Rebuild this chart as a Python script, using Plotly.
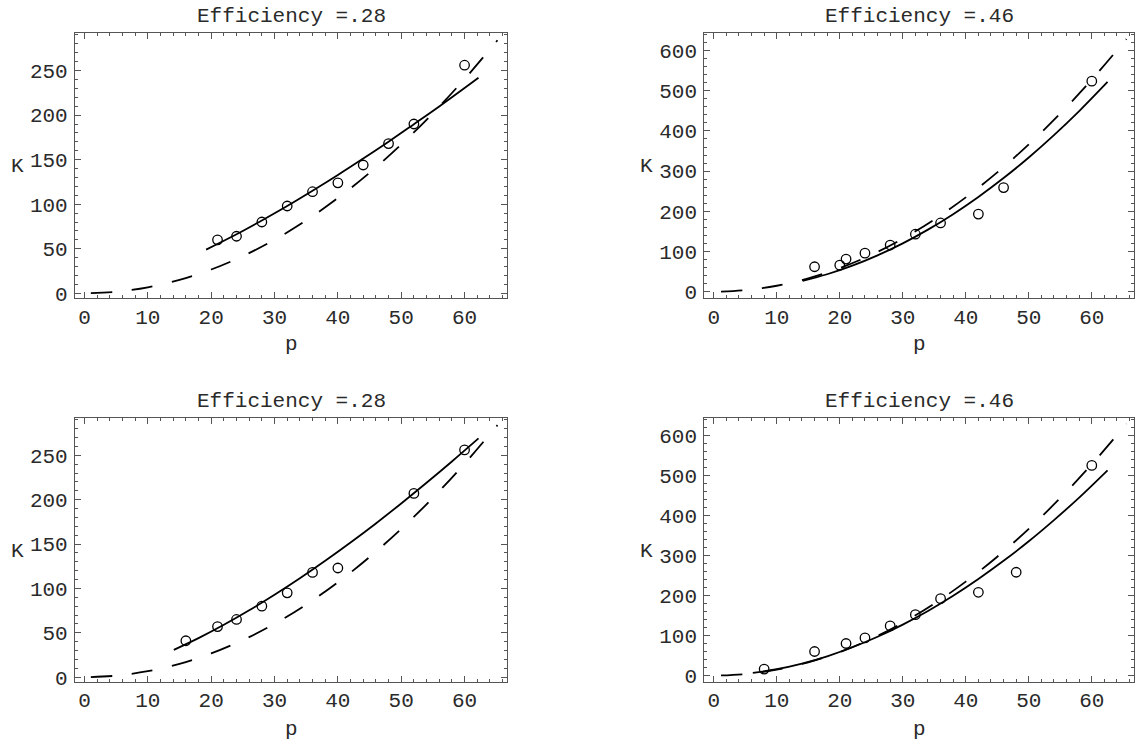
import plotly.graph_objects as go

# ---------------- data ----------------
titles = ["Efficiency =.28", "Efficiency =.46", "Efficiency =.28", "Efficiency =.46"]

# dashed model curves
p_dash_28 = [1, 5, 10, 15, 20, 25, 30, 35, 40, 45, 50, 55, 60, 65.2]
K_dash_28 = [0.1, 1.7, 6.7, 15.0, 26.7, 41.8, 60.1, 81.8, 106.9, 135.3, 167.0, 202.1, 240.5, 284.0]
p_dash_46 = [1.15, 5, 10, 15, 20, 25, 30, 35, 40, 45, 50, 55, 60, 65.5]
K_dash_46 = [0.2, 3.7, 14.7, 33.0, 58.6, 91.6, 131.9, 179.6, 234.6, 296.9, 366.5, 443.5, 527.8, 629.0]

# top-left panel
p_obs_tl = [21, 24, 28, 32, 36, 40, 44, 48, 52, 60]
K_obs_tl = [60, 64, 80, 98, 114, 124, 144, 168, 190, 256]
p_fit_tl = [19.2, 24, 28, 32, 36, 40, 44, 48, 52, 56, 60, 62.2]
K_fit_tl = [49, 66.3, 81.8, 98.0, 115.1, 132.8, 151.2, 170.1, 189.8, 209.7, 230.4, 242]

# top-right panel
p_obs_tr = [16, 20, 21, 24, 28, 32, 36, 42, 46, 60]
K_obs_tr = [62, 66, 81, 96, 116, 143, 171, 193, 259, 524]
p_fit_tr = [14.1, 18, 22, 26, 30, 34, 38, 42, 46, 50, 54, 58, 62.5]
K_fit_tr = [26.6, 43.3, 64.7, 90.3, 120.2, 154.4, 192.9, 235.7, 282.7, 334.0, 389.6, 449.4, 522]

# bottom-left panel
p_obs_bl = [16, 21, 24, 28, 32, 36, 40, 52, 60]
K_obs_bl = [41, 57, 65, 80, 95, 118, 123, 207, 256]
p_fit_bl = [14.1, 18, 22, 26, 30, 34, 38, 42, 46, 50, 54, 58, 62.2]
K_fit_bl = [30.8, 44.0, 59.0, 75.3, 92.8, 111.4, 131.1, 151.7, 173.2, 195.7, 219.0, 243.0, 269]

# bottom-right panel
p_obs_br = [8, 16, 21, 24, 28, 32, 36, 42, 48, 60]
K_obs_br = [16, 60, 80, 94, 124, 152, 192, 208, 258, 525]
p_fit_br = [6.2, 10, 14, 18, 22, 26, 30, 34, 38, 42, 46, 50, 54, 58, 62.5]
K_fit_br = [6.4, 15.8, 29.9, 48.1, 70.6, 96.8, 127.2, 161.3, 199.3, 241.2, 286.6, 335.5, 388.4, 444.5, 512.6]

# ---------------- styling ----------------
W, H = 1136, 748
FONT = "Courier New, Liberation Mono, DejaVu Sans Mono, monospace"
FS = 21
TXT = "#2a2a2a"
FRAME = "#555555"

panels = [
    dict(ax="", dash=(p_dash_28, K_dash_28), fit=(p_fit_tl, K_fit_tl), obs=(p_obs_tl, K_obs_tl)),
    dict(ax="2", dash=(p_dash_46, K_dash_46), fit=(p_fit_tr, K_fit_tr), obs=(p_obs_tr, K_obs_tr)),
    dict(ax="3", dash=(p_dash_28, K_dash_28), fit=(p_fit_bl, K_fit_bl), obs=(p_obs_bl, K_obs_bl)),
    dict(ax="4", dash=(p_dash_46, K_dash_46), fit=(p_fit_br, K_fit_br), obs=(p_obs_br, K_obs_br)),
]

fig = go.Figure()
for pn in panels:
    xa, ya = "x" + pn["ax"], "y" + pn["ax"]
    fig.add_trace(go.Scatter(x=pn["dash"][0], y=pn["dash"][1], mode="lines", xaxis=xa, yaxis=ya,
                             line=dict(color="black", width=1.8, dash="21px,20px", shape="spline"),
                             showlegend=False, hoverinfo="skip"))
    fig.add_trace(go.Scatter(x=pn["fit"][0], y=pn["fit"][1], mode="lines", xaxis=xa, yaxis=ya,
                             line=dict(color="black", width=1.8, shape="spline"),
                             showlegend=False, hoverinfo="skip"))
    fig.add_trace(go.Scatter(x=pn["obs"][0], y=pn["obs"][1], mode="markers", xaxis=xa, yaxis=ya,
                             marker=dict(symbol="circle-open", size=9.5, color="black",
                                         line=dict(color="black", width=1.3)),
                             showlegend=False))

def px_x(a, b):
    return [a / W, b / W]

def px_y(top, bottom):
    return [1 - bottom / H, 1 - top / H]

XL, XR = px_x(75, 507), px_x(704.3, 1134)
YT, YB = px_y(33.5, 301.5), px_y(422.5, 689.5)

def axis_common(dtick, minor_dtick):
    return dict(showline=True, mirror="allticks", linecolor=FRAME, linewidth=1.2,
                ticks="inside", ticklen=6, tickwidth=1, tickcolor=FRAME,
                showgrid=False, zeroline=False, tick0=0, dtick=dtick,
                minor=dict(ticks="inside", ticklen=3, tickwidth=1, tickcolor=FRAME,
                           dtick=minor_dtick, tick0=0, showgrid=False),
                tickfont=dict(family=FONT, size=FS, color=TXT))

x_range = [-1.5, 66.7]
y_range_28 = [-5.6, 292]
y_range_46 = [-16.5, 643.5]

layout = dict(
    width=W, height=H, margin=dict(l=0, r=0, t=0, b=0),
    paper_bgcolor="white", plot_bgcolor="white",
    font=dict(family=FONT, size=FS, color=TXT),
)
specs = [("", XL, YT, y_range_28, 50, 10),
         ("2", XR, YT, y_range_46, 100, 20),
         ("3", XL, YB, y_range_28, 50, 10),
         ("4", XR, YB, y_range_46, 100, 20)]
for s, xd, yd, yr, ydt, ymd in specs:
    xa = axis_common(10, 2)
    xa.update(domain=xd, range=x_range, anchor="y" + s, ticklabelstandoff=-1)
    ya = axis_common(ydt, ymd)
    ya.update(domain=yd, range=yr, anchor="x" + s, ticklabelstandoff=2)
    layout["xaxis" + s] = xa
    layout["yaxis" + s] = ya
fig.update_layout(**layout)

# titles and axis labels
ann = []
centers_x = [(75 + 507) / 2, (704.3 + 1134) / 2]
title_y = [17, 406]
k_x = [17.5, 646.3]
k_y = [168.5, 557]
p_y = [348, 737]
for i, t in enumerate(titles):
    col, row = i % 2, i // 2
    ann.append(dict(text=t, x=centers_x[col] / W, y=1 - title_y[row] / H, xref="paper", yref="paper",
                    xanchor="center", yanchor="middle", showarrow=False,
                    font=dict(family=FONT, size=FS, color=TXT)))
    ann.append(dict(text="K", x=k_x[col] / W, y=1 - k_y[row] / H, xref="paper", yref="paper",
                    xanchor="center", yanchor="middle", showarrow=False,
                    font=dict(family=FONT, size=FS, color=TXT)))
    ann.append(dict(text="p", x=centers_x[col] / W, y=1 - p_y[row] / H, xref="paper", yref="paper",
                    xanchor="center", yanchor="middle", showarrow=False,
                    font=dict(family=FONT, size=FS, color=TXT)))
fig.update_layout(annotations=ann)

fig.write_html("out.html")
